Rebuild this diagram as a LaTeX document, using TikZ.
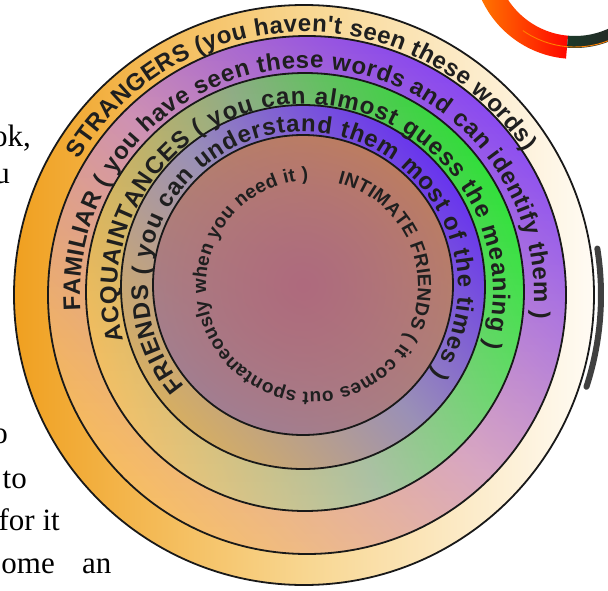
\documentclass[tikz,border=0pt]{standalone}
\usepackage{fontspec}
\setmainfont{Liberation Serif}
\newfontfamily\ringsans{Liberation Sans}
\usetikzlibrary{decorations.text,fadings}
\newcommand\bandfont{\ringsans\bfseries\fontsize{24pt}{24pt}\selectfont}
\newcommand\corefont{\ringsans\bfseries\fontsize{19pt}{19pt}\selectfont}
\newcommand\marginfont{\fontsize{31pt}{31pt}\selectfont}
\definecolor{strangerL}{HTML}{F0A020}
\definecolor{strangerM}{HTML}{F8D690}
\definecolor{strangerR}{HTML}{FFFBF4}
\definecolor{famOrange}{HTML}{F4A834}
\definecolor{famMid}{HTML}{CC8CB0}
\definecolor{famPurple}{HTML}{8644F0}
\definecolor{acqOrange}{HTML}{EEB040}
\definecolor{acqMid}{HTML}{8EAC84}
\definecolor{acqGreen}{HTML}{22DE2C}
\definecolor{friTan}{HTML}{D6AE62}
\definecolor{friMid}{HTML}{9A90B6}
\definecolor{friPurple}{HTML}{6834EE}
\definecolor{coreTop}{HTML}{C68A4E}
\definecolor{coreBot}{HTML}{9A8C9E}
\definecolor{coreMid}{HTML}{AE6A7E}
\definecolor{logoDark}{HTML}{1C3A2A}
\definecolor{logoDeep}{HTML}{2C1820}
\tikzfading[name=coreglow,inner color=transparent!0,outer color=transparent!100]
\tikzfading[name=paledown,top color=transparent!100,bottom color=transparent!72]
\begin{document}
\begin{tikzpicture}[x=1pt,y=1pt,
  ring/.style={draw=black!90,line width=1.8pt},
  pale/.style={white,path fading=paledown},
  bandtext/.style={decorate,decoration={text along path,text align=fit to path,text color=black!88,text={#1}}},
  margin/.style={font=\marginfont,inner sep=0pt,anchor=base east}]
\useasboundingbox (-304,-295) rectangle (304,295);
% centres of the rings
\coordinate (c1) at (0,0);
\coordinate (c2) at (3,0);
\coordinate (c3) at (1,3);
\coordinate (c4) at (-1,8);
\coordinate (c5) at (-1,10);
\coordinate (ct) at (8,9);
\coordinate (lg) at (271,339);
% rings, outermost first
\shadedraw[ring,left color=strangerL,right color=strangerR,middle color=strangerM] (c1) circle[radius=290pt];
\shade[top color=famOrange,bottom color=famPurple,middle color=famMid,shading angle=135] (c2) circle[radius=259pt];
\fill[pale] (c2) circle[radius=259pt];
\draw[ring] (c2) circle[radius=259pt];
\shade[top color=acqOrange,bottom color=acqGreen,middle color=acqMid,shading angle=110] (c3) circle[radius=219pt];
\fill[pale] (c3) circle[radius=219pt];
\draw[ring] (c3) circle[radius=219pt];
\shadedraw[ring,top color=friTan,bottom color=friPurple,middle color=friMid,shading angle=130] (c4) circle[radius=182pt];
\shade[top color=coreTop,bottom color=coreBot,shading angle=-30] (c5) circle[radius=150pt];
\begin{scope}
\clip (c5) circle[radius=150pt];
\fill[coreMid,path fading=coreglow] (c5) circle[radius=250pt];
\end{scope}
\draw[ring] (c5) circle[radius=150pt];
% shadow on the right rim
\draw[black!75,line width=6pt,line cap=round] ([shift={(-18:297pt)}]c1) arc[start angle=-18,end angle=9,radius=297pt];
% texts along the rings
\path[bandtext={|\bandfont|STRANGERS (you haven't seen these words)}]
  ([shift={(149:263pt)}]c1) arc[start angle=149,end angle=33,radius=263pt];
\path[bandtext={|\bandfont|FAMILIAR ( you have seen these words and can identify them )}]
  ([shift={(184:227pt)}]c2) arc[start angle=184,end angle=-6,radius=227pt];
\path[bandtext={|\bandfont|ACQUAINTANCES ( you can almost guess the meaning )}]
  ([shift={(195:188pt)}]c3) arc[start angle=195,end angle=-17,radius=188pt];
\path[bandtext={|\bandfont|FRIENDS ( you can understand them most of the times )}]
  ([shift={(220:155pt)}]c4) arc[start angle=220,end angle=-34,radius=155pt];
\path[bandtext={|\corefont|INTIMATE FRIENDS ( it comes out spontaneously when you need it )}]
  ([shift={(76:106pt)}]ct) arc[start angle=76,end angle=-268,radius=106pt];
% logo corner
\shade[left color=orange,right color=red!95!orange]
  ([shift={(180:103pt)}]lg) arc[start angle=180,end angle=265,radius=103pt]
  -- ([shift={(265:80pt)}]lg) arc[start angle=265,end angle=180,radius=80pt] -- cycle;
\shade[left color=logoDark,right color=logoDeep]
  ([shift={(265:92pt)}]lg) arc[start angle=265,end angle=330,radius=92pt]
  -- ([shift={(330:80pt)}]lg) arc[start angle=330,end angle=265,radius=80pt] -- cycle;
\draw[orange,line width=0.9pt] ([shift={(235:91pt)}]lg) arc[start angle=235,end angle=330,radius=91pt];
% page text cut at the left edge
\node[margin] (m1) at (-273,149) {ok,};
\node[margin] (m2) at (-294,112) {u};
\node[margin] (m3) at (-296,-148) {o};
\node[margin] (m4) at (-277,-193) {to};
\node[margin] (m5) at (-244,-235) {for it};
\node[margin] (m6) at (-249,-278) {ome};
\node[margin,anchor=base west] (m7) at (-222,-278) {an};
\end{tikzpicture}
\end{document}
